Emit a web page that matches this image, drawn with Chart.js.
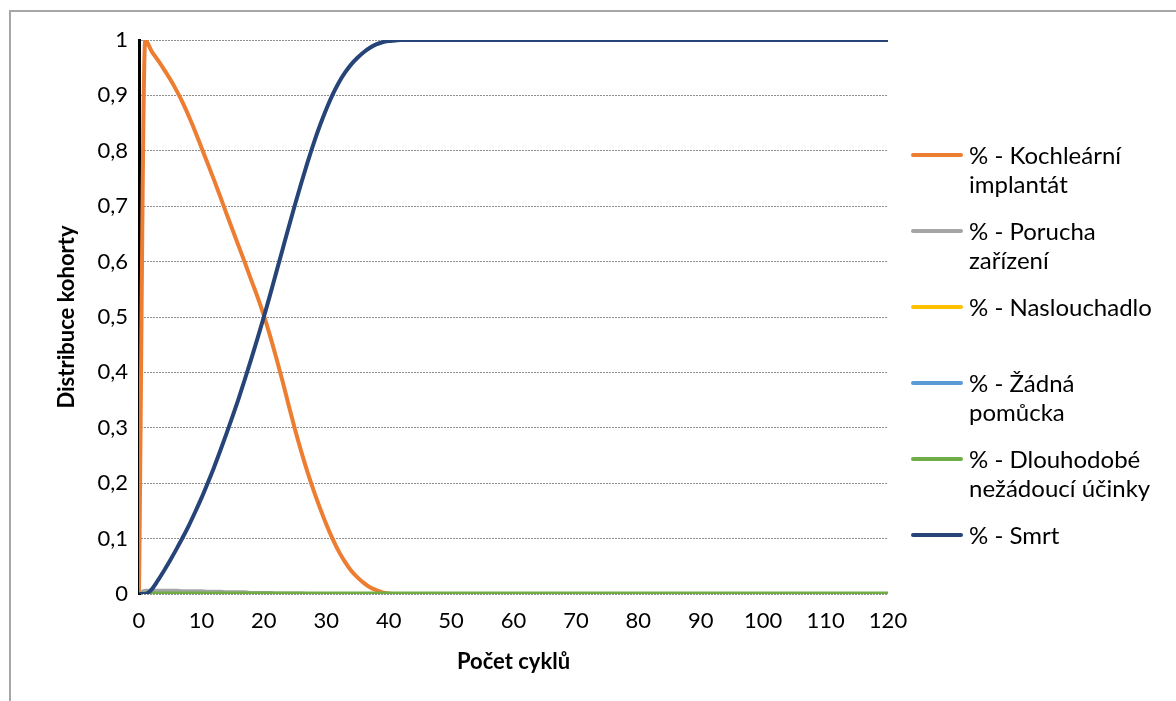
<!DOCTYPE html>
<html>
<head>
<meta charset="utf-8">
<script src="https://cdn.jsdelivr.net/npm/chart.js@4.4.1/dist/chart.umd.min.js"></script>
<style>
  body { margin: 0; background: #fff; overflow: hidden; }
  #wrap { position: relative; width: 1176px; height: 701px; }
  #frame { position: absolute; left: 9px; top: 10px; width: 1200px; height: 720px; border: 2px solid #a6a6a6; }
  #legend { position: absolute; left: 911px; top: 140px; font-family: Lato, sans-serif; font-size: 24px; color: #000; }
  .item { display: flex; height: 76px; }
  .swatch { width: 52px; height: 4px; margin-top: 13px; border-radius: 2px; }
  .txt { margin-left: 6px; width: 200px; line-height: 29px; }
</style>
</head>
<body>
<div id="wrap">
  <div id="frame"></div>
  <canvas id="myChart" width="1176" height="701"></canvas>
  <div id="legend"></div>
</div>
<script>
// cycles 0..44, then the flat tail
var cycles = [0,1,2,3,4,5,6,7,8,9,10,11,12,13,14,15,16,17,18,19,20,21,22,23,24,25,26,27,28,29,30,
  31,32,33,34,35,36,37,38,39,40,41,42,43,44,50,60,70,80,90,100,110,120];

var implant = [0,1,0.98,0.964,0.947,0.929,0.909,0.887,0.862,0.835,0.806,0.777,0.748,0.718,0.687,0.657,0.627,0.597,0.566,0.536,0.503,
  0.466,0.426,0.384,0.340,0.297,0.257,0.220,0.186,0.155,0.126,0.100,0.077,0.058,0.042,0.030,0.020,0.012,0.007,0.003,0.001,
  0,0,0,0,0,0,0,0,0,0,0,0];

var failure = [0,0.006,0.006,0.006,0.006,0.006,0.006,0.005,0.005,0.005,0.005,0.004,0.004,0.004,0.003,0.003,0.003,0.003,0.002,0.002,0.002,
  0.002,0.001,0.001,0.001,0.001,0.001,0,0,0,0,0,0,0,0,0,0,0,0,0,0,
  0,0,0,0,0,0,0,0,0,0,0,0];

var hearingAid = [0,0,0,0,0,0,0,0,0,0,0,0,0,0,0,0,0,0,0,0,0,0,0,0,0,0,0,0,0,0,0,
  0,0,0,0,0,0,0,0,0,0,0,0,0,0,0,0,0,0,0,0,0,0];

var noAid = [0,0,0,0,0,0,0,0,0,0,0,0,0,0,0,0,0,0,0,0,0,0,0,0,0,0,0,0,0,0,0,
  0,0,0,0,0,0,0,0,0,0,0,0,0,0,0,0,0,0,0,0,0,0];

var adverse = [0,0.001,0.001,0.001,0.001,0.001,0.001,0.001,0.001,0.001,0.001,0.001,0.001,0.001,0.001,0.001,0.001,0.001,0.001,0.001,0.001,
  0.001,0.001,0.001,0.001,0.001,0.001,0.001,0.001,0.001,0.001,0.001,0.001,0.001,0.001,0.001,0.001,0.001,0.001,0.001,0.001,
  0.001,0.001,0.001,0.001,0.001,0.001,0.001,0.001,0.001,0.001,0.001,0.001];

var death = [0,0,0.008,0.024,0.042,0.061,0.081,0.102,0.124,0.148,0.173,0.200,0.228,0.258,0.289,0.321,0.354,0.389,0.425,0.462,0.500,
  0.540,0.581,0.622,0.663,0.703,0.742,0.779,0.814,0.846,0.875,0.901,0.923,0.941,0.956,0.968,0.978,0.986,0.992,0.996,0.998,
  0.999,1,1,1,1,1,1,1,1,1,1,1];

var labels = ["% - Kochleární implantát", "% - Porucha zařízení", "% - Naslouchadlo",
  "% - Žádná pomůcka", "% - Dlouhodobé nežádoucí účinky", "% - Smrt"];
var colors = ["#ED7D31", "#A5A5A5", "#FFC000", "#5B9BD5", "#70AD47", "#264478"];
var series = [implant, failure, hearingAid, noAid, adverse, death];

function points(vals) {
  var out = [];
  for (var i = 0; i < cycles.length; i++) {
    out.push({x: cycles[i], y: vals[i]});
  }
  return out;
}

var datasets = [];
for (var i = 0; i < series.length; i++) {
  datasets.push({
    label: labels[i],
    data: points(series[i]),
    borderColor: colors[i],
    backgroundColor: colors[i],
    borderWidth: 4,
    pointRadius: 0,
    cubicInterpolationMode: 'monotone',
    order: series.length - i
  });
}

var font = 'Lato, sans-serif';
var ctx = document.getElementById('myChart').getContext('2d');
var chart = new Chart(ctx, {
  type: 'line',
  data: { datasets: datasets },
  options: {
    responsive: false,
    animation: false,
    devicePixelRatio: 1,
    layout: { padding: { left: 50, top: 40, right: 288, bottom: 22 } },
    plugins: { legend: { display: false }, tooltip: { enabled: false } },
    scales: {
      x: {
        type: 'linear',
        min: 0, max: 120,
        ticks: { stepSize: 10, color: '#000', font: { family: font, size: 22 }, padding: 14, maxRotation: 0 },
        grid: { display: false, drawTicks: false },
        border: { display: false },
        title: { display: true, text: 'Počet cyklů', color: '#000', font: { family: font, size: 22, weight: 'bold' } },
        afterFit: function(axis) { axis.height = 85; }
      },
      y: {
        min: 0, max: 1,
        ticks: {
          stepSize: 0.1, color: '#000', font: { family: font, size: 22 }, padding: 11,
          callback: function(v) { return (Math.round(v * 10) / 10).toString().replace('.', ','); }
        },
        grid: { color: '#8f8f8f', lineWidth: 1, drawTicks: false },
        border: { display: true, color: '#000', width: 3, dash: [2, 1] },
        title: { display: true, text: 'Distribuce kohorty', color: '#000', font: { family: font, size: 22, weight: 'bold' } },
        afterFit: function(axis) { axis.width = 89; }
      }
    }
  }
});

var legend = document.getElementById('legend');
for (var j = 0; j < labels.length; j++) {
  var item = document.createElement('div');
  item.className = 'item';
  var sw = document.createElement('div');
  sw.className = 'swatch';
  sw.style.background = colors[j];
  var tx = document.createElement('div');
  tx.className = 'txt';
  tx.textContent = labels[j];
  item.appendChild(sw);
  item.appendChild(tx);
  legend.appendChild(item);
}
</script>
</body>
</html>
